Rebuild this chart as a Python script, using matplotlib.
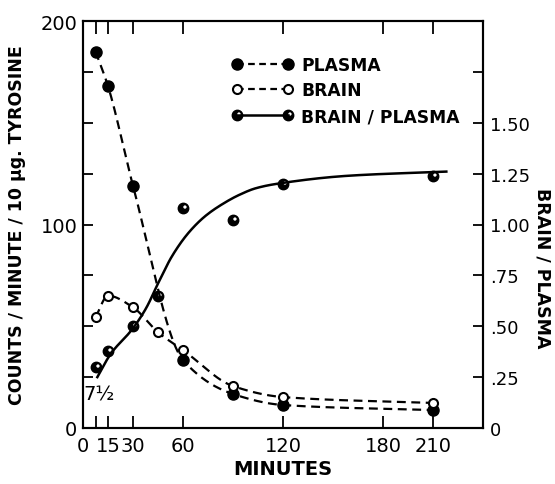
import numpy as np
import matplotlib
matplotlib.use("Agg")
import matplotlib.pyplot as plt
from matplotlib.path import Path
from matplotlib.ticker import FixedLocator, FixedFormatter

# ---------------- data ----------------
plasma_t = [7.5, 15, 30, 60, 90, 120, 210]
plasma_v = [185, 168, 119, 33.4, 16.7, 11.3, 8.8]

brain_t = [7.5, 15, 30, 45, 60, 90, 120, 210]
brain_v = [54.4, 65, 59.3, 47, 38.3, 20.6, 15.2, 12.3]

ratio_t = [7.5, 15, 30, 45, 60, 90, 120, 210]
ratio_v = [0.30, 0.38, 0.50, 0.65, 1.08, 1.02, 1.20, 1.24]

# hand-drawn fitted curve for brain/plasma
fit_t = [8.6, 16.6, 29.6, 37.6, 45.6, 53.6, 63.6, 73.6, 83.6, 93.6, 103.6, 115.6, 160, 218]
fit_v = [0.25, 0.364, 0.486, 0.585, 0.72, 0.847, 0.962, 1.043, 1.10, 1.145, 1.178, 1.199, 1.24, 1.26]

xtick_pos = [0, 7.5, 15, 30, 60, 120, 180, 210]
xtick_lab = ["0", "", "15", "30", "60", "120", "180", "210"]
ly_ticks = [0, 25, 50, 75, 100, 125, 150, 175, 200]
ly_labels = ["0", "", "", "", "100", "", "", "", "200"]
ry_ticks = [0, 0.25, 0.5, 0.75, 1.0, 1.25, 1.5, 1.75]
ry_labels = ["0", ".25", ".50", ".75", "1.00", "1.25", "1.50", ""]


def pchip(x, y, n=300):
    x = np.asarray(x, float)
    y = np.asarray(y, float)
    h = np.diff(x)
    d = np.diff(y) / h
    m = np.zeros_like(y)
    m[0], m[-1] = d[0], d[-1]
    for k in range(1, len(x) - 1):
        if d[k - 1] * d[k] > 0:
            w1 = 2 * h[k] + h[k - 1]
            w2 = h[k] + 2 * h[k - 1]
            m[k] = (w1 + w2) / (w1 / d[k - 1] + w2 / d[k])
    xs = np.linspace(x[0], x[-1], n)
    idx = np.clip(np.searchsorted(x, xs) - 1, 0, len(x) - 2)
    t = (xs - x[idx]) / h[idx]
    h00 = 2 * t**3 - 3 * t**2 + 1
    h10 = t**3 - 2 * t**2 + t
    h01 = -2 * t**3 + 3 * t**2
    h11 = t**3 - t**2
    ys = h00 * y[idx] + h10 * h[idx] * m[idx] + h01 * y[idx + 1] + h11 * h[idx] * m[idx + 1]
    return xs, ys


# half-filled marker: black disc with a small white hole upper-right
circ = Path.unit_circle()
hole_verts = circ.vertices[::-1] * 0.45 + np.array([0.28, 0.28])
half_marker = Path(np.concatenate([circ.vertices, hole_verts]),
                   np.concatenate([circ.codes, circ.codes]))

plt.rcParams['font.family'] = ['DejaVu Sans']

fig = plt.figure(figsize=(5.55, 4.85), dpi=100)
ax = fig.add_axes([83 / 555, 1 - 429 / 485, 400 / 555, 407 / 485])
ax2 = ax.twinx()

dash = (4, 2.5)
lw = 1.6

# plasma
xs, ys = pchip(plasma_t, plasma_v)
ax.plot(xs, ys, color='black', lw=lw, dashes=dash)
ax.plot(plasma_t, plasma_v, 'o', color='black', ms=8, zorder=5)
# brain
xs, ys = pchip(brain_t, brain_v)
ax.plot(xs, ys, color='black', lw=lw, dashes=dash)
ax.plot(brain_t, brain_v, 'o', mfc='white', mec='black', mew=1.5, ms=6.5, zorder=5)
# ratio
xs, ys = pchip(fit_t, fit_v)
ax2.plot(xs, ys, color='black', lw=1.8)
ax2.plot(ratio_t, ratio_v, linestyle='none', marker=half_marker, color='black', ms=7.5, zorder=5)

# legend handles
h1, = ax.plot([], [], color='black', lw=lw, dashes=(3, 2), marker='o', ms=8)
h2, = ax.plot([], [], color='black', lw=lw, dashes=(3, 2), marker='o', mfc='white', mew=1.5, ms=6.5)
h3, = ax.plot([], [], color='black', lw=1.8, marker=half_marker, ms=7.5)
leg = ax.legend([h1, h2, h3], ["PLASMA", "BRAIN", "BRAIN / PLASMA"], loc='upper left',
                bbox_to_anchor=(0.355, 0.932), frameon=False, numpoints=2,
                prop={'size': 12.3, 'weight': 'bold'},
                handlelength=3.6, handletextpad=0.45, labelspacing=0.46, borderaxespad=0)

ax.set_xlim(0, 240)
ax.set_ylim(0, 200)
ax2.set_ylim(0, 2.0)

ax.xaxis.set_major_locator(FixedLocator(xtick_pos))
ax.xaxis.set_major_formatter(FixedFormatter(xtick_lab))
ax.yaxis.set_major_locator(FixedLocator(ly_ticks))
ax.yaxis.set_major_formatter(FixedFormatter(ly_labels))
ax2.yaxis.set_major_locator(FixedLocator(ry_ticks))
ax2.yaxis.set_major_formatter(FixedFormatter(ry_labels))

ax.tick_params(axis='x', direction='in', length=9, width=1.3, top=True, labelsize=14, pad=6)
ax.tick_params(axis='y', direction='in', length=7, width=1.3, labelsize=14, pad=4)
ax2.tick_params(axis='y', direction='in', length=7, width=1.3, labelsize=13, pad=5)

for a in (ax, ax2):
    for s in a.spines.values():
        s.set_linewidth(1.5)

ax.set_xlabel("MINUTES", fontsize=14, fontweight='bold', labelpad=3)
ax.set_ylabel("COUNTS / MINUTE / 10 μg. TYROSINE", fontsize=12.5, fontweight='bold')
ax.yaxis.set_label_coords(-0.142, 0.5)
fig.text(542 / 555, 1 - 268 / 485, "BRAIN / PLASMA", fontsize=12.5, fontweight='bold',
         rotation=-90, ha='center', va='center')

ax.text(9.6, 16.5, "7½", fontsize=14, ha='center', va='center')

fig.savefig("out.png", dpi=100)
